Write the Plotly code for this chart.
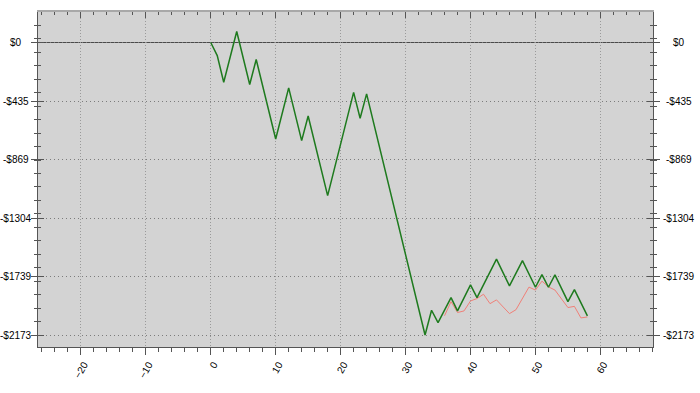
import plotly.graph_objects as go

# ---- data ----
GREEN_X = [0, 1, 2, 4, 6, 7, 10, 12, 14, 15, 18, 22, 23, 24, 33, 34, 35, 37, 38,
           40, 41, 44, 46, 48, 50, 51, 52, 53, 55, 56, 58]
GREEN_Y = [0, -97, -295, 82, -312, -126, -717, -337, -729, -546, -1138, -370, -563,
           -382, -2173, -1989, -2081, -1895, -1994, -1800, -1895, -1609, -1808,
           -1620, -1818, -1724, -1818, -1726, -1925, -1836, -2031]
RED_X = [36, 37, 38, 39, 40, 41, 42, 43, 44, 46, 47, 49, 50, 51, 52, 53, 55, 56, 57, 58]
RED_Y = [-2030, -1925, -2006, -1994, -1920, -1902, -1870, -1940, -1912, -2014, -1985,
         -1817, -1839, -1773, -1815, -1839, -1969, -1960, -2046, -2039]
X_TICK_VALUES = [-20, -10, 0, 10, 20, 30, 40, 50, 60]
Y_TICK_VALUES = [0, -435, -869, -1304, -1739, -2173]
Y_TICK_LABELS = ["$0", "-$435", "-$869", "-$1304", "-$1739", "-$2173"]

X_RANGE = [-26.6, 68.1]
Y_RANGE = [-2262, 226.6]
AXIS_COLOR = "#555555"
FONT = dict(family="Liberation Sans, Arial, sans-serif", size=10, color="black")

fig = go.Figure()
fig.add_trace(go.Scatter(x=RED_X, y=RED_Y, mode="lines",
                         line=dict(color="#f08078", width=1), hoverinfo="skip",
                         showlegend=False))
fig.add_trace(go.Scatter(x=GREEN_X, y=GREEN_Y, mode="lines",
                         line=dict(color="#1e7a1e", width=1.5), hoverinfo="skip",
                         showlegend=False))
# empty traces so that the extra tick axes get drawn
for xa, ya in [("x2", "y"), ("x", "y2"), ("x", "y3"), ("x", "y4")]:
    fig.add_trace(go.Scatter(x=[None], y=[None], xaxis=xa, yaxis=ya,
                             mode="lines", showlegend=False, hoverinfo="skip"))

yminor_out = dict(tick0=-2173, dtick=100, ticks="outside", ticklen=3,
                  tickcolor=AXIS_COLOR, showgrid=False)
yminor_in = dict(tick0=-2173, dtick=100, ticks="inside", ticklen=3,
                 tickcolor=AXIS_COLOR, showgrid=False)

fig.update_layout(
    width=700, height=393,
    margin=dict(l=38, r=47, t=12, b=46, pad=0),
    paper_bgcolor="white", plot_bgcolor="#d3d3d3",
    font=FONT,
    showlegend=False,
    xaxis=dict(range=X_RANGE, tickvals=X_TICK_VALUES, ticks="outside", ticklen=7,
               tickcolor=AXIS_COLOR, showline=True, linecolor=AXIS_COLOR, linewidth=1,
               showgrid=True, gridcolor="#9a9a9a", griddash="1px,2px", gridwidth=1,
               zeroline=False, tickangle=-60, tickfont=FONT, ticklabelshift=3,
               minor=dict(tick0=0, dtick=2, ticks="outside", ticklen=4,
                          tickcolor=AXIS_COLOR, showgrid=False)),
    xaxis2=dict(range=X_RANGE, overlaying="x", side="top", tickvals=X_TICK_VALUES,
                ticks="inside", ticklen=6, tickcolor=AXIS_COLOR, showline=True,
                linecolor="#a8a8a8", linewidth=2, showgrid=False, zeroline=False,
                showticklabels=False,
                minor=dict(tick0=0, dtick=2, ticks="inside", ticklen=3,
                           tickcolor=AXIS_COLOR, showgrid=False)),
    yaxis=dict(range=Y_RANGE, tickvals=Y_TICK_VALUES, ticks="outside", ticklen=6,
               tickcolor=AXIS_COLOR, showline=True, linecolor=AXIS_COLOR, linewidth=1,
               showgrid=True, gridcolor="#7c7c7c", griddash="1px,3px", gridwidth=1,
               zeroline=False, showticklabels=False, minor=yminor_out),
    yaxis2=dict(range=Y_RANGE, overlaying="y", side="right", tickvals=Y_TICK_VALUES,
                ticks="outside", ticklen=6, tickcolor=AXIS_COLOR, showline=True,
                linecolor=AXIS_COLOR, linewidth=1, showgrid=False, zeroline=False,
                showticklabels=False, minor=yminor_out),
    yaxis3=dict(range=Y_RANGE, overlaying="y", side="left", tickvals=Y_TICK_VALUES,
                ticks="inside", ticklen=6, tickcolor=AXIS_COLOR, showline=False,
                showgrid=False, zeroline=False, showticklabels=False, minor=yminor_in),
    yaxis4=dict(range=Y_RANGE, overlaying="y", side="right", tickvals=Y_TICK_VALUES,
                ticks="inside", ticklen=6, tickcolor=AXIS_COLOR, showline=False,
                showgrid=False, zeroline=False, showticklabels=False, minor=yminor_in),
)

# zero line extending slightly past the frame
fig.add_shape(type="line", xref="paper", yref="y", x0=-0.0098, x1=1.0114, y0=0, y1=0,
              line=dict(color="#4a4a4a", width=1), layer="below")

# centered y tick labels on both sides
for v, lab in zip(Y_TICK_VALUES, Y_TICK_LABELS):
    for xp in (-0.036, 1.043):
        fig.add_annotation(x=xp, y=v, xref="paper", yref="y", text=lab,
                           showarrow=False, xanchor="center", yanchor="middle",
                           font=FONT)

fig.write_html("out.html")
